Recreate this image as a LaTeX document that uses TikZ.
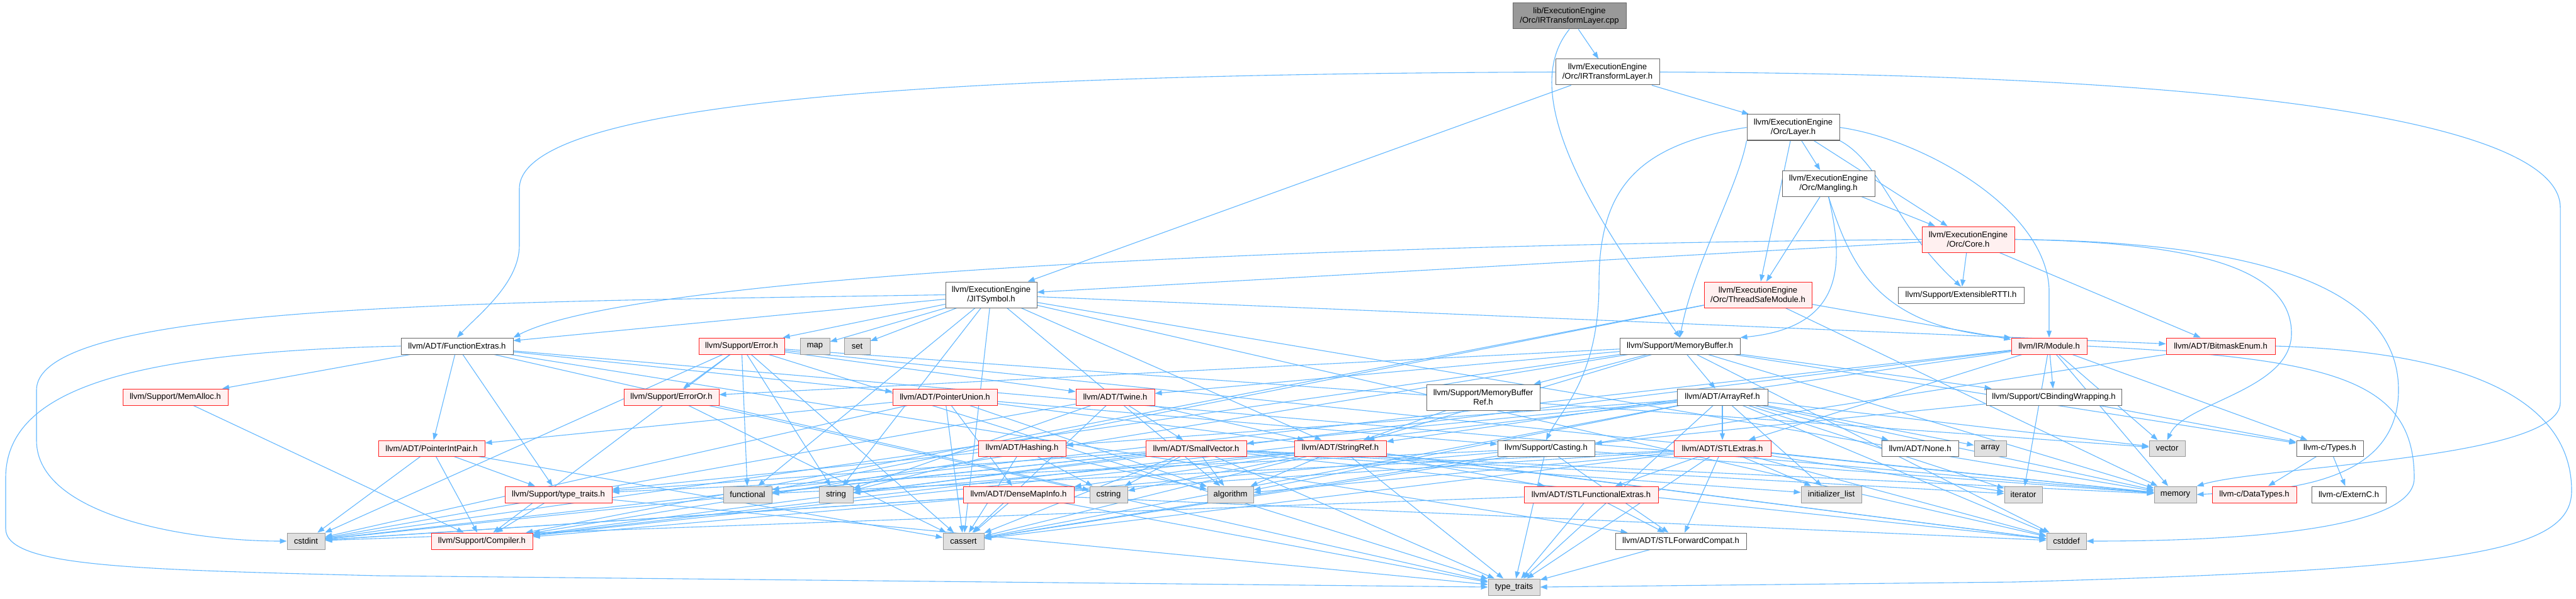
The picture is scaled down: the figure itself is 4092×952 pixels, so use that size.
\documentclass[tikz,border=0pt]{standalone}
\usepackage{fontspec}
\setmainfont{Liberation Sans}
\usetikzlibrary{arrows.meta}
\pgfdeclarelayer{bg}
\pgfsetlayers{bg,main}
\definecolor{edgec}{HTML}{63B8FF}
\definecolor{wnb}{HTML}{666666}
\definecolor{rnf}{HTML}{FFF0F0}
\definecolor{rnb}{HTML}{FF2020}
\definecolor{gnf}{HTML}{E0E0E0}
\definecolor{gnb}{HTML}{999999}
\definecolor{rootf}{HTML}{999999}
\newcommand{\mynode}[7][wn]{\node[#1, minimum width={#4pt-#3pt}, minimum height={#6pt-#5pt}] (#2) at ({(#3+#4)/2},{(#5+#6)/2}) {#7};}
\begin{document}
\begin{tikzpicture}[x=1pt,y=-1pt,
 box/.style={draw, inner sep=0pt, align=center, font=\fontsize{13.1}{14.5}\selectfont, line width=1pt},
 wn/.style={box, draw=wnb, fill=white},
 rn/.style={box, draw=rnb, fill=rnf, line width=1pt},
 gn/.style={box, draw=gnb, fill=gnf},
 rootn/.style={box, draw=wnb, fill=rootf},
 e/.style={draw=edgec, line width=1.1pt, -{Triangle[length=11pt,width=8pt]}},
]
\useasboundingbox (0,0) rectangle (4092,952);
% row 0-5
\mynode[rootn]{root}{2403}{2583}{5}{46}{lib/ExecutionEngine\\/Orc/IRTransformLayer.cpp}
\mynode{irtl}{2471}{2636}{94}{135}{llvm/ExecutionEngine\\/Orc/IRTransformLayer.h}
\mynode{layer}{2775}{2922}{182}{223}{llvm/ExecutionEngine\\/Orc/Layer.h}
\mynode{mangling}{2831}{2978}{271}{312}{llvm/ExecutionEngine\\/Orc/Mangling.h}
\mynode[rn]{core}{3053}{3200}{360}{401}{llvm/ExecutionEngine\\/Orc/Core.h}
\mynode{jit}{1502}{1647}{448}{489}{llvm/ExecutionEngine\\/JITSymbol.h}
\mynode[rn]{tsm}{2707}{2878}{448}{489}{llvm/ExecutionEngine\\/Orc/ThreadSafeModule.h}
\mynode{ertti}{3015}{3215}{456}{482}{llvm/Support/ExtensibleRTTI.h}
% row 6
\mynode{fe}{637}{815}{537}{563}{llvm/ADT/FunctionExtras.h}
\mynode[rn]{err}{1110}{1246}{537}{563}{llvm/Support/Error.h}
\mynode[gn]{map}{1271}{1318}{537}{563}{map}
\mynode[gn]{set}{1341}{1382}{537}{563}{set}
\mynode{mb}{2573}{2764}{537}{563}{llvm/Support/MemoryBuffer.h}
\mynode[rn]{mod}{3195}{3315}{537}{563}{llvm/IR/Module.h}
\mynode[rn]{bme}{3441}{3614}{537}{563}{llvm/ADT/BitmaskEnum.h}
% row 7
\mynode[rn]{memalloc}{195}{362}{618}{644}{llvm/Support/MemAlloc.h}
\mynode[rn]{erroror}{991}{1142}{618}{644}{llvm/Support/ErrorOr.h}
\mynode[rn]{pu}{1418}{1584}{618}{644}{llvm/ADT/PointerUnion.h}
\mynode[rn]{twine}{1709}{1834}{618}{644}{llvm/ADT/Twine.h}
\mynode{mbref}{2266}{2446}{611}{652}{llvm/Support/MemoryBuffer\\Ref.h}
\mynode{aref}{2664}{2808}{618}{644}{llvm/ADT/ArrayRef.h}
\mynode{cbw}{3155}{3370}{618}{644}{llvm/Support/CBindingWrapping.h}
% row 8
\mynode[rn]{pip}{601}{770}{700}{725}{llvm/ADT/PointerIntPair.h}
\mynode[rn]{hash}{1554}{1693}{700}{725}{llvm/ADT/Hashing.h}
\mynode[rn]{sv}{1820}{1980}{700}{725}{llvm/ADT/SmallVector.h}
\mynode[rn]{sref}{2056}{2202}{700}{725}{llvm/ADT/StringRef.h}
\mynode{cast}{2379}{2533}{700}{725}{llvm/Support/Casting.h}
\mynode[rn]{stlx}{2659}{2813}{700}{725}{llvm/ADT/STLExtras.h}
\mynode{none}{2989}{3111}{700}{725}{llvm/ADT/None.h}
\mynode[gn]{array}{3136}{3187}{700}{725}{array}
\mynode[gn]{vector}{3414}{3471}{700}{725}{vector}
\mynode{ctypes}{3648}{3754}{700}{725}{llvm-c/Types.h}
% row 9
\mynode[rn]{stt}{802}{972}{773}{799}{llvm/Support/type\_traits.h}
\mynode[gn]{functional}{1149}{1226}{773}{799}{functional}
\mynode[gn]{string}{1301}{1355}{773}{799}{string}
\mynode[rn]{dmi}{1530}{1706}{773}{799}{llvm/ADT/DenseMapInfo.h}
\mynode[gn]{cstring}{1731}{1791}{773}{799}{cstring}
\mynode[gn]{algorithm}{1918}{1991}{773}{799}{algorithm}
\mynode[rn]{stlfe}{2421}{2634}{773}{799}{llvm/ADT/STLFunctionalExtras.h}
\mynode[gn]{initl}{2861}{2957}{773}{799}{initializer\_list}
\mynode[gn]{iterator}{3184}{3244}{773}{799}{iterator}
\mynode[gn]{memory}{3422}{3489}{773}{799}{memory}
\mynode[rn]{dtypes}{3514}{3648}{773}{799}{llvm-c/DataTypes.h}
\mynode{externc}{3672}{3790}{773}{799}{llvm-c/ExternC.h}
% row 10-11
\mynode[gn]{cstdint}{456}{516}{847}{873}{cstdint}
\mynode[rn]{compiler}{685}{846}{847}{873}{llvm/Support/Compiler.h}
\mynode[gn]{cassert}{1498}{1563}{847}{873}{cassert}
\mynode{stlfc}{2566}{2774}{847}{873}{llvm/ADT/STLForwardCompat.h}
\mynode[gn]{cstddef}{3251}{3314}{847}{873}{cstddef}
\mynode[gn]{tt}{2364}{2446}{920}{946}{type\_traits}

\begin{pgfonlayer}{bg}
\fill[white] (0,0) rectangle (4092,952);
% curved edges
\draw[e] (root.south) .. controls (2400,160) and (2560,380) .. (mb.north);
\draw[e] (irtl.west) .. controls (1500,118) and (825,160) .. (825,300) -- (825,390) .. controls (825,450) and (760,500) .. (fe.north);
\draw[e] (irtl.east) .. controls (3600,118) and (4067,200) .. (4067,330) -- (4067,640) .. controls (4067,730) and (3600,740) .. (memory.north east);
\draw[e] (layer.west) .. controls (2600,230) and (2540,300) .. (2540,450) .. controls (2540,600) and (2480,650) .. (cast.north);
\draw[e] (layer.east) .. controls (3050,220) and (3250,330) .. (3255,460) -- (mod.north);
\draw[e] (layer.south east) .. controls (2990,260) and (3010,360) .. (ertti.north);
\draw[e] (layer.south west) .. controls (2760,300) and (2690,420) .. (mb.north);
\draw[e] (mangling.south) .. controls (2930,420) and (2930,520) .. (mb.north east);
\draw[e] (mangling.south) .. controls (2940,420) and (2980,520) .. (mod.north west);
\draw[e] (core.west) .. controls (2000,390) and (1000,440) .. (fe.north east);
\draw[e] (core.east) .. controls (3500,385) and (3640,430) .. (3640,530) .. controls (3640,620) and (3470,640) .. (vector.north);
\draw[e] (core.east) .. controls (3650,385) and (3810,480) .. (3810,620) .. controls (3810,780) and (3600,780) .. (memory.east);
\draw[e] (jit.west) .. controls (800,480) and (58,480) .. (58,620) -- (58,700) .. controls (58,820) and (300,860) .. (cstdint.west);
\draw[e] (fe.west) .. controls (200,560) and (9,620) .. (9,760) -- (9,840) .. controls (9,900) and (200,905) .. (600,915) -- (tt.west);
\draw[e] (mod.east) .. controls (3700,570) and (3835,600) .. (3835,760) .. controls (3835,850) and (3500,860) .. (cstddef.east);
\draw[e] (bme.east) .. controls (3950,560) and (4085,650) .. (4085,780) .. controls (4085,880) and (3900,905) .. (3200,925) -- (tt.east);
% straight edges
\foreach \s/\t in {root/irtl, irtl/jit, irtl/layer,
 layer/core, layer/mangling, layer/tsm,
 mangling/core, mangling/tsm,
 core/jit, core/ertti, core/bme,
 tsm/mod, tsm/compiler, tsm/functional, tsm/memory}
 \draw[e] (\s) -- (\t);
\foreach \t in {bme, fe, sref, err, algorithm, cassert, cstddef, functional, map, memory, set, string}
 \draw[e] (jit) -- (\t);
\foreach \t in {pip, pu, stlfc, memalloc, stt, cstring, memory}
 \draw[e] (fe) -- (\t);
\foreach \t in {twine, compiler, erroror, cassert, cstdint, functional, memory, string, tt, vector}
 \draw[e] (err) -- (\t);
\foreach \s/\t in {memalloc/compiler, erroror/cassert, erroror/tt,
 pip/compiler, pip/stt, pip/cassert, pip/cstdint,
 stt/compiler, stt/tt,
 pu/dmi, pu/pip, pu/cast, pu/algorithm, pu/cassert, pu/cstddef, pu/cstdint,
 twine/sv, twine/sref, twine/cassert, twine/cstdint, twine/string,
 mbref/sref, cbw/ctypes, cbw/cast, bme/cassert,
 hash/stt, hash/algorithm, hash/cassert, hash/cstring, hash/string,
 stlfe/stlfc, stlfe/tt, stlfe/cstdint, stlfc/tt,
 dmi/cassert, dmi/cstddef, dmi/cstdint, dmi/tt,
 ctypes/dtypes, ctypes/externc}
 \draw[e] (\s) -- (\t);
\foreach \t in {ctypes, aref, sref, twine, cbw, compiler, erroror, mbref, cstddef, cstdint, memory}
 \draw[e] (mb) -- (\t);
\foreach \t in {hash, none, stlx, sv, compiler, algorithm, array, cassert, cstddef, initl, iterator, memory, tt, vector}
 \draw[e] (aref) -- (\t);
\foreach \t in {ctypes, stlx, sref, cbw, cstdint, iterator, memory, string, vector}
 \draw[e] (mod) -- (\t);
\foreach \t in {compiler, stt, algorithm, cassert, cstddef, cstdint, cstring, functional, initl, iterator, memory, tt}
 \draw[e] (sv) -- (\t);
\foreach \t in {dmi, stlfe, compiler, algorithm, cassert, cstddef, cstring, string, tt}
 \draw[e] (sref) -- (\t);
\foreach \t in {compiler, stt, cassert, memory, tt, stlfc}
 \draw[e] (cast) -- (\t);
\foreach \t in {stlfc, stlfe, algorithm, cassert, cstddef, cstdint, functional, initl, iterator, memory, tt}
 \draw[e] (stlx) -- (\t);
\end{pgfonlayer}
\end{tikzpicture}
\end{document}
